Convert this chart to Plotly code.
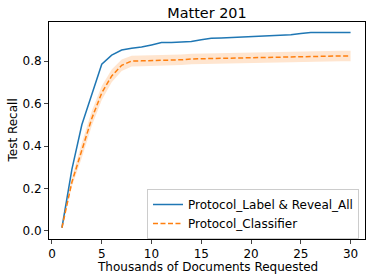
import plotly.graph_objects as go

x_thousands = list(range(1, 31))
label_reveal_all = [0.015, 0.29, 0.50, 0.645, 0.785, 0.828, 0.852, 0.860, 0.866, 0.876,
                    0.887, 0.888, 0.889, 0.892, 0.900, 0.907, 0.909, 0.911, 0.913, 0.915,
                    0.919, 0.920, 0.922, 0.924, 0.930, 0.934, 0.934, 0.935, 0.935, 0.935]
classifier_mean = [0.015, 0.23, 0.38, 0.53, 0.650, 0.730, 0.780, 0.800, 0.801, 0.802,
                   0.803, 0.803, 0.806, 0.810, 0.811, 0.813, 0.814, 0.815, 0.815, 0.816,
                   0.817, 0.818, 0.819, 0.820, 0.823, 0.824, 0.824, 0.824, 0.824, 0.824]
classifier_spread = [0.004, 0.02, 0.035, 0.035, 0.033, 0.03, 0.027, 0.025, 0.025, 0.025,
                     0.025, 0.025, 0.025, 0.025, 0.025, 0.025, 0.025, 0.025, 0.025, 0.025,
                     0.025, 0.025, 0.025, 0.025, 0.025, 0.025, 0.025, 0.025, 0.025, 0.025]
x_ticks = [0, 5, 10, 15, 20, 25, 30]
y_ticks = [0.0, 0.2, 0.4, 0.6, 0.8]

upper = [m + s for m, s in zip(classifier_mean, classifier_spread)]
lower = [m - s for m, s in zip(classifier_mean, classifier_spread)]

fig = go.Figure()
fig.add_trace(go.Scatter(x=x_thousands, y=upper, mode="lines", line=dict(width=0),
                         showlegend=False, hoverinfo="skip"))
fig.add_trace(go.Scatter(x=x_thousands, y=lower, mode="lines", line=dict(width=0),
                         fill="tonexty", fillcolor="rgba(255,127,14,0.2)",
                         showlegend=False, hoverinfo="skip"))
fig.add_trace(go.Scatter(x=x_thousands, y=label_reveal_all, mode="lines",
                         name="Protocol_Label & Reveal_All",
                         line=dict(color="#1f77b4", width=1.5)))
fig.add_trace(go.Scatter(x=x_thousands, y=classifier_mean, mode="lines",
                         name="Protocol_Classifier",
                         line=dict(color="#ff7f0e", width=1.5, dash="5px,2.5px")))

font = "DejaVu Sans"
fig.update_layout(
    width=374, height=280,
    margin=dict(l=49, r=9, t=22, b=41),
    paper_bgcolor="white", plot_bgcolor="white",
    font=dict(family=font, size=12, color="black"),
    title=dict(text="Matter 201", x=0.5, xanchor="center", xref="paper",
               y=1 - 13 / 280, yanchor="middle", font=dict(size=14.4)),
    legend=dict(x=0.981, xanchor="right", y=0.0, yanchor="bottom",
                bgcolor="rgba(255,255,255,0.8)", bordercolor="#cccccc", borderwidth=1,
                font=dict(size=12), traceorder="normal", tracegroupgap=0),
    showlegend=True,
    hovermode=False,
    annotations=[
        dict(text="Thousands of Documents Requested", xref="paper", yref="paper",
             x=0.5, y=-0.13, xanchor="center", yanchor="middle", showarrow=False,
             font=dict(size=12)),
        dict(text="Test Recall", xref="paper", yref="paper", textangle=-90,
             x=-0.117, y=0.5, xanchor="center", yanchor="middle", showarrow=False,
             font=dict(size=12)),
    ],
)
fig.update_xaxes(range=[-0.3, 31.45], tickvals=x_ticks, ticks="outside", ticklen=4,
                 showline=True, linecolor="black", linewidth=1, mirror=True,
                 showgrid=False, zeroline=False, automargin=False)
fig.update_yaxes(range=[-0.038, 0.984], tickvals=y_ticks, tickformat=".1f",
                 ticks="outside", ticklen=4,
                 showline=True, linecolor="black", linewidth=1, mirror=True,
                 showgrid=False, zeroline=False, automargin=False)
fig.write_html("out.html", config={"displayModeBar": False},
               post_script="document.body.style.margin='0px';")
